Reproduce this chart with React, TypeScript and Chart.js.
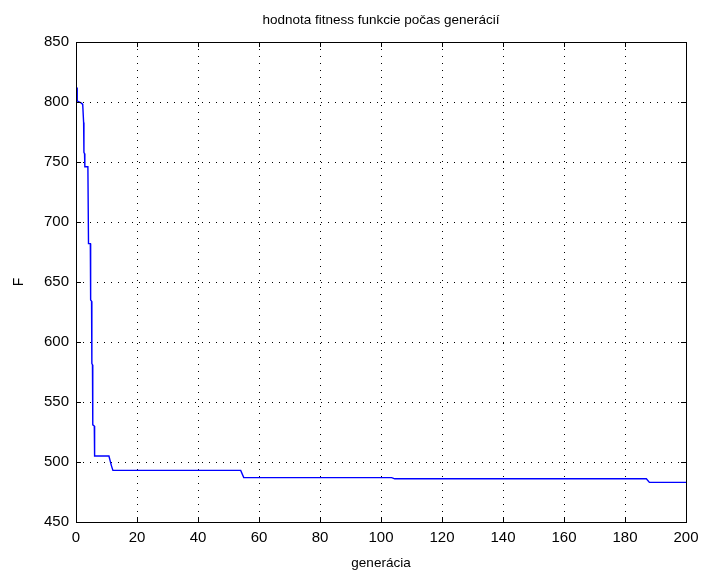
import React, { useEffect, useRef } from "react";
import { Chart, registerables } from "chart.js";

Chart.register(...registerables);

// Best fitness value found per generation (generation, F)
const generations = [
  0.4, 0.4, 1.0, 1.8, 2.2, 2.5, 2.6, 2.8, 2.9, 3.9,
  4.1, 4.7, 4.8, 5.1, 5.2, 5.4, 5.5, 6.0, 6.1, 10.8,
  11.6, 12.1, 54.0, 55.0, 103.5, 104.5, 187.0, 188.0, 200,
];
const fitness = [
  812, 801, 800, 799, 798, 783, 758, 757, 746, 746,
  682, 682, 635, 634, 582, 581, 531, 530, 505, 505,
  497, 493, 493, 487, 487, 486, 486, 483, 483,
];

const xTicks = [0, 20, 40, 60, 80, 100, 120, 140, 160, 180, 200];
const yTicks = [450, 500, 550, 600, 650, 700, 750, 800, 850];

const titleText = "hodnota fitness funkcie počas generácií";
const xTitle = "generácia";
const yTitle = "F";

const FONT = '"Liberation Sans", Arial, sans-serif';

const framePlugin = {
  id: "frame",
  afterDraw(chart: any) {
    const { ctx, chartArea: a, scales } = chart;
    const x = scales.x;
    const y = scales.y;
    ctx.save();
    ctx.strokeStyle = "#000";
    ctx.lineWidth = 1;
    ctx.beginPath();
    xTicks.forEach((v) => {
      const px = Math.round(x.getPixelForValue(v)) + 0.5;
      ctx.moveTo(px, a.bottom);
      ctx.lineTo(px, a.bottom - 5);
      ctx.moveTo(px, a.top);
      ctx.lineTo(px, a.top + 5);
    });
    yTicks.forEach((v) => {
      const py = Math.round(y.getPixelForValue(v)) + 0.5;
      ctx.moveTo(a.left, py);
      ctx.lineTo(a.left + 5, py);
      ctx.moveTo(a.right, py);
      ctx.lineTo(a.right - 5, py);
    });
    ctx.stroke();
    ctx.strokeRect(a.left + 0.5, a.top + 0.5, a.right - a.left, a.bottom - a.top);

    ctx.fillStyle = "#000";
    ctx.font = `13.5px ${FONT}`;
    ctx.textAlign = "center";
    ctx.textBaseline = "middle";
    ctx.fillText(titleText, (a.left + a.right) / 2, 20);
    ctx.restore();
  },
};

export default function App() {
  const canvasRef = useRef<HTMLCanvasElement | null>(null);

  useEffect(() => {
    const canvas = canvasRef.current;
    if (!canvas) return;
    const points = generations.map((g, i) => ({ x: g, y: fitness[i] }));
    const chart = new Chart(canvas, {
      type: "line",
      data: {
        datasets: [
          {
            data: points,
            borderColor: "#0000ff",
            borderWidth: 1.4,
            pointRadius: 0,
            tension: 0,
            fill: false,
          },
        ],
      },
      options: {
        animation: false,
        responsive: false,
        devicePixelRatio: 1,
        layout: { padding: { top: 42, right: 15, left: 0, bottom: 0 } },
        plugins: {
          legend: { display: false },
          tooltip: { enabled: false },
          title: { display: false },
        },
        scales: {
          x: {
            type: "linear",
            min: 0,
            max: 200,
            afterBuildTicks: (s: any) => {
              s.ticks = xTicks.map((v) => ({ value: v }));
            },
            afterFit: (s: any) => {
              s.height = 48;
              s.paddingLeft = 0;
              s.paddingRight = 0;
            },
            grid: { color: "#000", lineWidth: 1, drawTicks: false },
            border: { display: false, dash: [1, 6] },
            ticks: {
              color: "#000",
              padding: 7,
              maxRotation: 0,
              font: { family: FONT, size: 15 },
            },
            title: {
              display: true,
              text: xTitle,
              color: "#000",
              padding: { top: 0, bottom: -1 },
              font: { family: FONT, size: 13.5 },
            },
          },
          y: {
            type: "linear",
            min: 450,
            max: 850,
            afterBuildTicks: (s: any) => {
              s.ticks = yTicks.map((v) => ({ value: v }));
            },
            afterFit: (s: any) => {
              s.width = 76;
              s.paddingTop = 0;
              s.paddingBottom = 0;
            },
            grid: { color: "#000", lineWidth: 1, drawTicks: false },
            border: { display: false, dash: [1, 6] },
            ticks: {
              color: "#000",
              padding: 7,
              font: { family: FONT, size: 15 },
            },
            title: {
              display: true,
              text: yTitle,
              color: "#000",
              padding: { top: 11, bottom: 0 },
              font: { family: FONT, size: 14 },
            },
          },
        },
      },
      plugins: [framePlugin],
    });
    return () => chart.destroy();
  }, []);

  return (
    <div style={{ position: "absolute", left: 0, top: 0, width: 701, height: 570, background: "#fff" }}>
      <canvas ref={canvasRef} width={701} height={570} style={{ display: "block" }} />
    </div>
  );
}
